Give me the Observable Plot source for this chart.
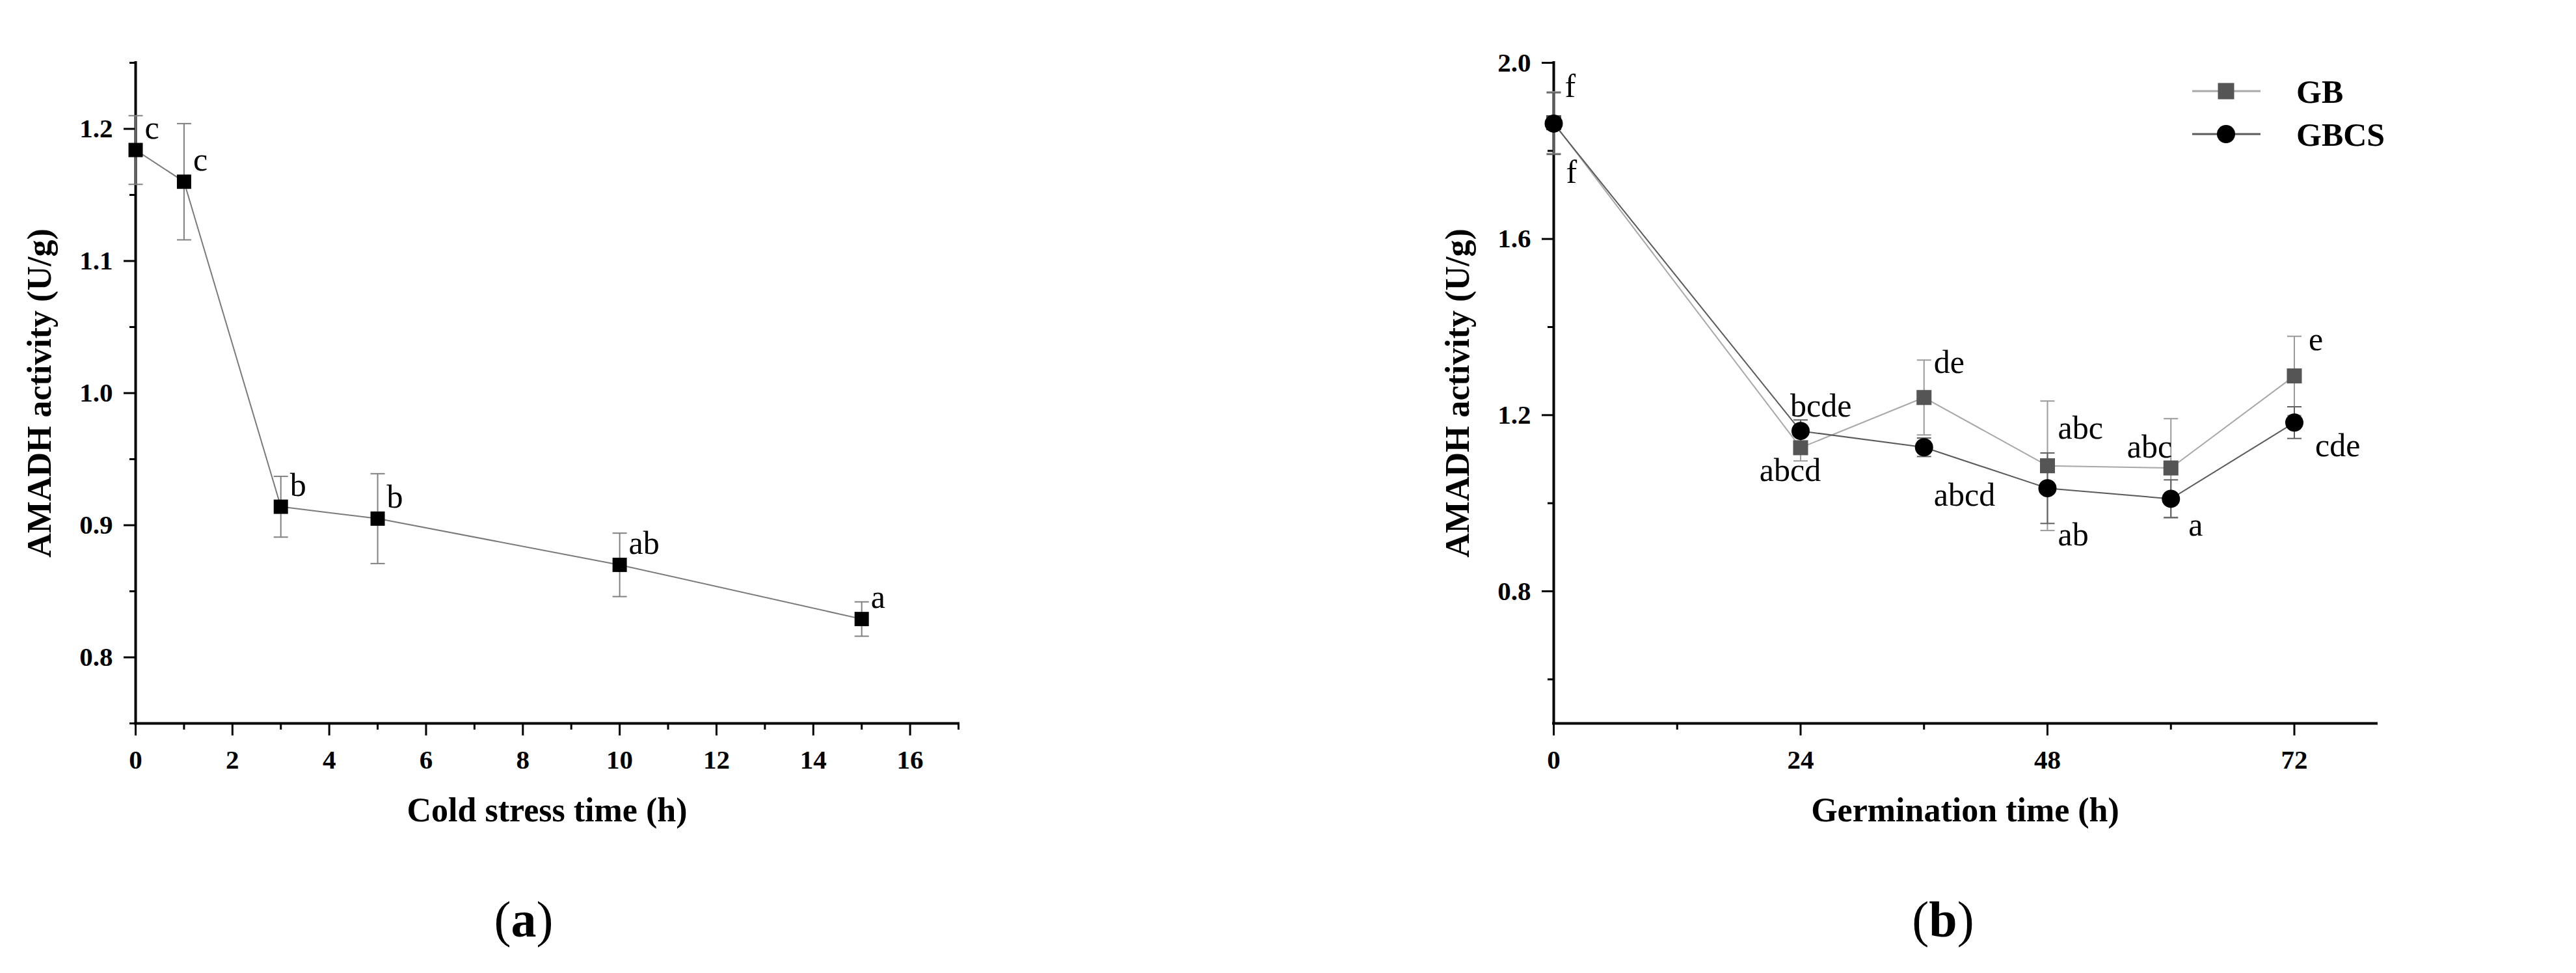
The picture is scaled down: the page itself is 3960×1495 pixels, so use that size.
<!DOCTYPE html>
<html>
<head>
<meta charset="utf-8">
<script src="https://cdn.jsdelivr.net/npm/d3@7"></script>
<script src="https://cdn.jsdelivr.net/npm/@observablehq/plot@0.6"></script>
<style>
  html, body { margin: 0; padding: 0; background: #fff; }
  #page { position: relative; width: 3960px; height: 1495px; background: #fff; overflow: hidden;
          font-family: "Liberation Serif", "Times New Roman", serif; }
  .panel { position: absolute; top: 0; }
  .tag { position: absolute; font-size: 78px; transform: translate(-50%, -50%); line-height: 1; }
  #legend { position: absolute; left: 3360px; top: 100px; }
</style>
</head>
<body>
<div id="page">
  <div id="pa" class="panel" style="left:0px"></div>
  <div id="pb" class="panel" style="left:2000px"></div>
  <div class="tag" style="left:805px; top:1413px">(<b>a</b>)</div>
  <div class="tag" style="left:2987px; top:1413px">(<b>b</b>)</div>
  <svg id="legend" width="420" height="150"></svg>
</div>
<script>
// ---------- data: panel (a) cold stress ----------
const coldTime = [0, 1, 3, 5, 10, 15];
const coldMean = [1.184, 1.160, 0.914, 0.905, 0.870, 0.829];
const coldErr  = [0.026, 0.044, 0.023, 0.034, 0.024, 0.013];
const coldLetters = ["c", "c", "b", "b", "ab", "a"];

// ---------- data: panel (b) germination ----------
const germTime = [0, 24, 36, 48, 60, 72];
const gbMean   = [1.864, 1.126, 1.240, 1.085, 1.080, 1.289];
const gbErr    = [0.070, 0.030, 0.085, 0.147, 0.112, 0.090];
const gbcsMean = [1.862, 1.164, 1.127, 1.034, 1.010, 1.183];
const gbcsErr  = [0.070, 0.025, 0.021, 0.080, 0.043, 0.036];
const gbLetters   = ["f", "abcd", "de", "abc", "abc", "e"];
const gbcsLetters = ["f", "bcde", "abcd", "ab", "a", "cde"];
const seriesNames = ["GB", "GBCS"];

// ---------- axis ticks ----------
const aXMajor = [0, 2, 4, 6, 8, 10, 12, 14, 16];
const aXMinor = [1, 3, 5, 7, 9, 11, 13, 15, 17];
const aYMajor = [0.8, 0.9, 1.0, 1.1, 1.2];
const aYMinor = [0.75, 0.85, 0.95, 1.05, 1.15, 1.25];
const bXMajor = [0, 24, 48, 72];
const bXMinor = [12, 36, 60];
const bYMajor = [0.8, 1.2, 1.6, 2.0];
const bYMinor = [0.6, 1.0, 1.4, 1.8];

// ---------- label placement (layout only) ----------
const aLabelPlace = {dx: 14, dy: -33};
const gbPlace = [
  {dx: 17, dy: -56, anchor: "start"},
  {dx: -16, dy: 35, anchor: "middle"},
  {dx: 15, dy: -54, anchor: "start"},
  {dx: 16, dy: -58, anchor: "start"},
  {dx: 2, dy: -32, anchor: "end"},
  {dx: 22, dy: -56, anchor: "start"}
];
const gbcsPlace = [
  {dx: 19, dy: 75, anchor: "start"},
  {dx: -16, dy: -38, anchor: "start"},
  {dx: 15, dy: 74, anchor: "start"},
  {dx: 16, dy: 72, anchor: "start"},
  {dx: 27, dy: 41, anchor: "start"},
  {dx: 32, dy: 36, anchor: "start"}
];

const SERIF = '"Liberation Serif", "Times New Roman", serif';
const cap = {draw(ctx, size) { const w = Math.sqrt(size / Math.PI); ctx.moveTo(-w, 0); ctx.lineTo(w, 0); }};

function rows(t, m, e, l) { return t.map((x, i) => ({x, y: m[i], err: e[i], label: l[i], i})); }

function axes(xMaj, xMin, yMaj, yMin, yFmt, xDom, yDom, xTitle) {
  return [
    Plot.axisY({ticks: yMaj, tickSize: 18, tickPadding: 17, tickFormat: yFmt, fontSize: 41, fontWeight: "bold", strokeWidth: 3, label: null}),
    Plot.axisY({ticks: yMin, tickSize: 9, tickFormat: () => "", strokeWidth: 3, label: null}),
    Plot.axisX({ticks: xMaj, tickSize: 19, tickPadding: 21, tickFormat: d3.format("d"), fontSize: 41, fontWeight: "bold", strokeWidth: 3, label: null}),
    Plot.axisX({ticks: xMin, tickSize: 10, tickFormat: () => "", strokeWidth: 3, label: null}),
    Plot.ruleX([xDom[0]], {stroke: "black", strokeWidth: 4, strokeLinecap: "square"}),
    Plot.ruleY([yDom[0]], {stroke: "black", strokeWidth: 4, strokeLinecap: "square"}),
    Plot.text([xTitle], {text: d => d, frameAnchor: "bottom", dy: 134, textAnchor: "middle", lineAnchor: "middle", fontSize: 52, fontWeight: "bold"}),
    Plot.text(["AMADH activity (U/g)"], {text: d => d, frameAnchor: "left", dx: -147, rotate: -90, textAnchor: "middle", lineAnchor: "middle", fontSize: 52, fontWeight: "bold"})
  ];
}

// ---------- panel (a) ----------
const aData = rows(coldTime, coldMean, coldErr, coldLetters);
const aXDom = [0, 17], aYDom = [0.75, 1.25];
const plotA = Plot.plot({
  width: 1600, height: 1300,
  marginLeft: 208, marginRight: 127, marginTop: 96, marginBottom: 189,
  x: {domain: aXDom}, y: {domain: aYDom},
  style: {fontFamily: SERIF, background: "transparent", overflow: "visible", color: "black"},
  marks: [
    ...axes(aXMajor, aXMinor, aYMajor, aYMinor, d3.format(".1f"), aXDom, aYDom, "Cold stress time (h)"),
    Plot.ruleX(aData, {x: "x", y1: d => d.y - d.err, y2: d => d.y + d.err, stroke: "#808080", strokeWidth: 2}),
    Plot.dot(aData, {x: "x", y: d => d.y + d.err, symbol: cap, r: 11, stroke: "#808080", strokeWidth: 2, fill: "none"}),
    Plot.dot(aData, {x: "x", y: d => d.y - d.err, symbol: cap, r: 11, stroke: "#808080", strokeWidth: 2, fill: "none"}),
    Plot.line(aData, {x: "x", y: "y", stroke: "#7a7a7a", strokeWidth: 2}),
    Plot.dot(aData, {x: "x", y: "y", symbol: "square", r: 12.4, fill: "black", stroke: "none"}),
    Plot.text(aData, {x: "x", y: "y", text: "label", dx: aLabelPlace.dx, dy: aLabelPlace.dy, textAnchor: "start", lineAnchor: "middle", fontSize: 50})
  ]
});
document.getElementById("pa").appendChild(plotA);

// ---------- panel (b) ----------
const gbData = rows(germTime, gbMean, gbErr, gbLetters);
const gbcsData = rows(germTime, gbcsMean, gbcsErr, gbcsLetters);
const bXDom = [0, 80], bYDom = [0.5, 2.0];
function errMarks(data, color) {
  return [
    Plot.ruleX(data, {x: "x", y1: d => d.y - d.err, y2: d => d.y + d.err, stroke: color, strokeWidth: 2}),
    Plot.dot(data, {x: "x", y: d => d.y + d.err, symbol: cap, r: 11, stroke: color, strokeWidth: 2, fill: "none"}),
    Plot.dot(data, {x: "x", y: d => d.y - d.err, symbol: cap, r: 11, stroke: color, strokeWidth: 2, fill: "none"})
  ];
}
function labelMarks(data, place) {
  return data.map((d, i) => Plot.text([d], {x: "x", y: "y", text: "label", dx: place[i].dx, dy: place[i].dy,
    textAnchor: place[i].anchor, lineAnchor: "middle", fontSize: 50}));
}
const plotB = Plot.plot({
  width: 1780, height: 1300,
  marginLeft: 388, marginRight: 127, marginTop: 96, marginBottom: 189,
  x: {domain: bXDom}, y: {domain: bYDom},
  style: {fontFamily: SERIF, background: "transparent", overflow: "visible", color: "black"},
  marks: [
    ...axes(bXMajor, bXMinor, bYMajor, bYMinor, d3.format(".1f"), bXDom, bYDom, "Germination time (h)"),
    Plot.line(gbData, {x: "x", y: "y", stroke: "#a8a8a8", strokeWidth: 2}),
    Plot.line(gbcsData, {x: "x", y: "y", stroke: "#5a5a5a", strokeWidth: 2}),
    ...errMarks(gbData, "#9a9a9a"),
    ...errMarks(gbcsData, "#606060"),
    Plot.dot(gbData, {x: "x", y: "y", symbol: "square", r: 13, fill: "#555555", stroke: "none"}),
    Plot.dot(gbcsData, {x: "x", y: "y", symbol: "circle", r: 14, fill: "black", stroke: "none"}),
    ...labelMarks(gbData, gbPlace),
    ...labelMarks(gbcsData, gbcsPlace)
  ]
});
document.getElementById("pb").appendChild(plotB);

// ---------- legend ----------
const lg = d3.select("#legend");
const legendStyle = [
  {line: "#a8a8a8", fill: "#555555", sym: d3.symbolSquare, size: 625},
  {line: "#5a5a5a", fill: "black", sym: d3.symbolCircle, size: Math.PI * 14 * 14}
];
seriesNames.forEach((name, i) => {
  const cy = 40 + i * 66;
  const s = legendStyle[i];
  lg.append("line").attr("x1", 10).attr("x2", 115).attr("y1", cy).attr("y2", cy).attr("stroke", s.line).attr("stroke-width", 3);
  lg.append("path").attr("d", d3.symbol(s.sym, s.size)()).attr("transform", `translate(62,${cy})`).attr("fill", s.fill);
  lg.append("text").attr("x", 170).attr("y", cy).attr("dy", "0.35em").attr("font-size", 50).attr("font-weight", "bold")
    .attr("font-family", SERIF).text(name);
});
</script>
</body>
</html>
